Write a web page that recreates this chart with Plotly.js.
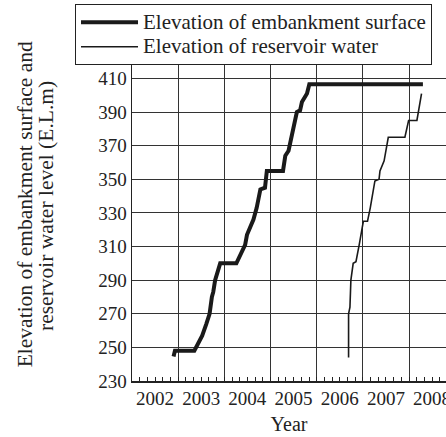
<!DOCTYPE html>
<html>
<head>
<meta charset="utf-8">
<script src="https://cdn.plot.ly/plotly-3.0.1.min.js"></script>
<style>html,body{margin:0;padding:0;background:#fff;}#chart{width:446px;height:437px;}</style>
</head>
<body>
<div id="chart"></div>
<script>
// Embankment surface elevation (E.L. m) by year
const embYears = [2002.90, 2002.93, 2003.35, 2003.48, 2003.52, 2003.61, 2003.64, 2003.68, 2003.73, 2003.76, 2003.80, 2003.91, 2004.26, 2004.34, 2004.45, 2004.49, 2004.56, 2004.63, 2004.70, 2004.78, 2004.88, 2004.92, 2005.27, 2005.32, 2005.39, 2005.46, 2005.53, 2005.57, 2005.64, 2005.68, 2005.79, 2005.84, 2008.30];
const embElev  = [244.6, 248, 248, 255, 257, 264, 266, 270, 280, 283, 290, 300, 300, 305, 311, 317, 321, 326, 333, 344, 345, 355, 355, 364, 367, 375, 383, 390, 391, 396, 401, 406.5, 406.5];
// Reservoir water level (E.L. m) by year
const resYears = [2006.69, 2006.69, 2006.72, 2006.74, 2006.79, 2006.85, 2006.92, 2006.98, 2007.01, 2007.10, 2007.16, 2007.26, 2007.35, 2007.37, 2007.46, 2007.55, 2007.91, 2007.99, 2008.17, 2008.27];
const resElev  = [244, 270, 274, 290, 300, 301, 311, 322, 325, 325, 333, 349, 350, 355, 361, 375, 375, 385, 385, 401];
const seriesNames = ["Elevation of embankment surface", "Elevation of reservoir water"];
const yTitleLines = ["Elevation of embankment surface and", "reservoir water level (E.L.m)"];
const xTitle = "Year";
const yTicks = [230, 250, 270, 290, 310, 330, 350, 370, 390, 410];

const serif = "'Liberation Serif', serif";
const legendName = s => '<span style="font-size:21px">' + s + '</span>';

const traces = [
  {x: embYears, y: embElev, name: legendName(seriesNames[0]), mode: "lines", line: {color: "#1a1a1a", width: 4}},
  {x: resYears, y: resElev, name: legendName(seriesNames[1]), mode: "lines", line: {color: "#1a1a1a", width: 1.6}}
];

const layout = {
  width: 446, height: 437,
  margin: {l: 132, r: 0, t: 65, b: 56, autoexpand: false},
  paper_bgcolor: "#fff", plot_bgcolor: "#fff",
  font: {family: serif, color: "#222", size: 19},
  showlegend: true,
  legend: {
    x: -0.1815, xanchor: "left", y: 1, yanchor: "bottom",
    bordercolor: "#222", borderwidth: 1, bgcolor: "#fff",
    font: {family: serif, size: 16.5, color: "#222"},
    itemwidth: 57, tracegroupgap: 0
  },
  xaxis: {
    range: [2002, 2008.8], tickmode: "linear", tick0: 2002, dtick: 1,
    showgrid: true, gridcolor: "#333", gridwidth: 1,
    ticks: "inside", ticklen: 4, tickcolor: "#222",
    ticklabelshift: 23, ticklabeloverflow: "allow",
    showline: true, linecolor: "#222", linewidth: 1.5,
    zeroline: false,
    tickfont: {family: serif, size: 19, color: "#222"},
    minor: {tickmode: "linear", tick0: 2002, dtick: 1/6, ticks: "inside", ticklen: 4, tickcolor: "#222", showgrid: false},
    title: {text: xTitle, font: {family: serif, size: 20, color: "#222"}, standoff: 8}
  },
  yaxis: {
    range: [230, 418], tickmode: "array", tickvals: yTicks, ticktext: yTicks.map(String),
    showgrid: true, gridcolor: "#333", gridwidth: 1,
    ticks: "", showline: true, linecolor: "#222", linewidth: 1.5,
    zeroline: false,
    tickfont: {family: serif, size: 19, color: "#222"}
  },
  annotations: [
    {text: yTitleLines[0], xref: "paper", yref: "paper", x: -0.34, y: 0.56, xanchor: "center", yanchor: "middle", textangle: -90, showarrow: false, font: {family: serif, size: 21.5, color: "#222"}},
    {text: yTitleLines[1], xref: "paper", yref: "paper", x: -0.276, y: 0.555, xanchor: "center", yanchor: "middle", textangle: -90, showarrow: false, font: {family: serif, size: 21.5, color: "#222"}}
  ]
};

Plotly.newPlot("chart", traces, layout, {displayModeBar: false, staticPlot: true});
</script>
</body>
</html>
